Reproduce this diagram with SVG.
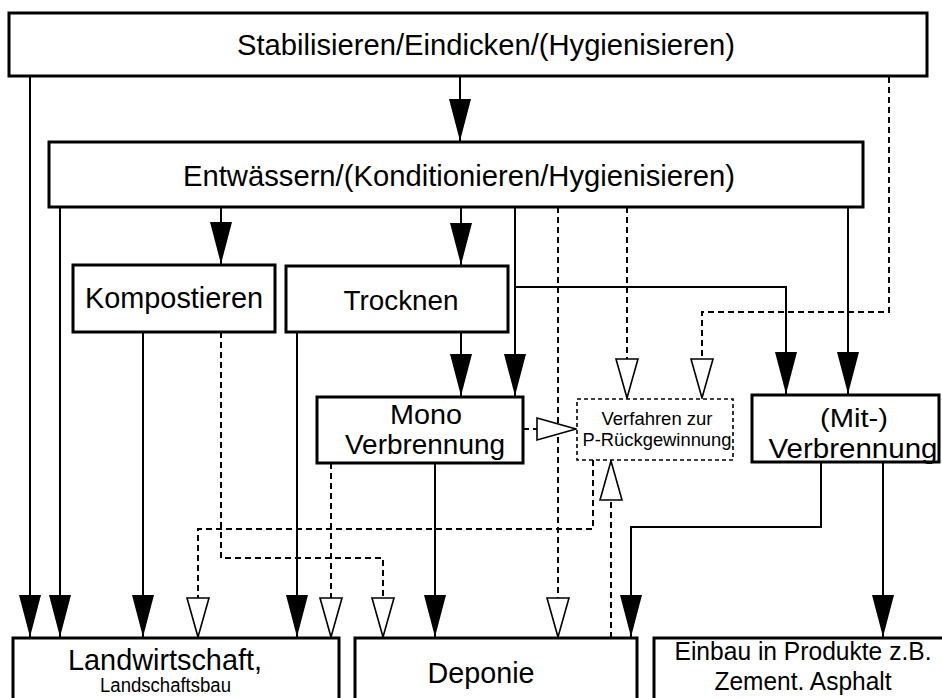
<svg xmlns="http://www.w3.org/2000/svg" width="942" height="698" viewBox="0 0 942 698">
<style>
.box{fill:#fff;stroke:#000;stroke-width:3}
.dbox{fill:#fff;stroke:#000;stroke-width:1.6;stroke-dasharray:4 3}
.t{font-family:"Liberation Sans",Arial,sans-serif;fill:#000;text-anchor:middle}
.s{fill:none;stroke:#000;stroke-width:2;marker-end:url(#fa)}
.d{fill:none;stroke:#000;stroke-width:2;stroke-dasharray:6 4;marker-end:url(#oa)}
</style>
<defs>
<marker id="fa" markerUnits="userSpaceOnUse" markerWidth="44" markerHeight="24" refX="42" refY="11" orient="auto" viewBox="0 0 44 24">
<path d="M0,0 L42,11 L0,22 Z" fill="#000" stroke="none"/>
</marker>
<marker id="oa" markerUnits="userSpaceOnUse" markerWidth="44" markerHeight="26" refX="40" refY="12" orient="auto" viewBox="0 0 44 26">
<path d="M1,1 L40,12 L1,23 Z" fill="#fff" stroke="#000" stroke-width="1.6" stroke-dasharray="none"/>
</marker>
</defs>
<rect width="942" height="698" fill="#fff"/>
<g id="connectors">
<path class="s" d="M30,77 V637"/>
<path class="s" d="M460,77 V141"/>
<path class="s" d="M60,207 V637"/>
<path class="s" d="M221,207 V264"/>
<path class="s" d="M461,207 V265"/>
<path class="s" d="M515,207 V396"/>
<path class="s" d="M515,287 H786 V394"/>
<path class="s" d="M848,207 V394"/>
<path class="s" d="M461,332 V396"/>
<path class="s" d="M143,332 V637"/>
<path class="s" d="M297,332 V637"/>
<path class="s" d="M435,463 V637"/>
<path class="s" d="M821,462 V527 H631 V637"/>
<path class="s" d="M883,462 V637"/>
<path class="d" d="M889,77 V312 H702 V398"/>
<path class="d" d="M627,207 V398"/>
<path class="d" d="M558,207 V637"/>
<path class="d" d="M221,332 V558 H383 V637"/>
<path class="d" d="M331,463 V637"/>
<path class="d" d="M523,429 H576"/>
<path class="d" d="M593,460 V529 H198 V637"/>
<path class="d" d="M611,638 V461"/>
</g>
<g id="stabilisieren">
<rect class="box" x="9" y="13" width="918" height="63"/>
<text class="t" x="486" y="55" font-size="30" textLength="498" lengthAdjust="spacingAndGlyphs">Stabilisieren/Eindicken/(Hygienisieren)</text>
</g>
<g id="entwaessern">
<rect class="box" x="49" y="142" width="814" height="65"/>
<text class="t" x="459" y="186" font-size="29" textLength="552" lengthAdjust="spacingAndGlyphs">Entwässern/(Konditionieren/Hygienisieren)</text>
</g>
<g id="kompostieren">
<rect class="box" x="73" y="265" width="202" height="67"/>
<text class="t" x="174" y="308" font-size="29" textLength="178" lengthAdjust="spacingAndGlyphs">Kompostieren</text>
</g>
<g id="trocknen">
<rect class="box" x="286" y="266" width="222" height="66"/>
<text class="t" x="401" y="310" font-size="28" textLength="115" lengthAdjust="spacingAndGlyphs">Trocknen</text>
</g>
<g id="mono">
<rect class="box" x="317" y="397" width="206" height="66"/>
<text class="t" x="426" y="424" font-size="27" textLength="72" lengthAdjust="spacingAndGlyphs">Mono</text>
<text class="t" x="425" y="454" font-size="28" textLength="160" lengthAdjust="spacingAndGlyphs">Verbrennung</text>
</g>
<g id="p-rueckgewinnung">
<rect class="dbox" x="577" y="399" width="156" height="61"/>
<text class="t" x="657" y="425" font-size="18" textLength="111" lengthAdjust="spacingAndGlyphs">Verfahren zur</text>
<text class="t" x="657" y="446" font-size="18" textLength="149" lengthAdjust="spacingAndGlyphs">P-Rückgewinnung</text>
</g>
<g id="mitverbrennung">
<rect class="box" x="752" y="395" width="187" height="67"/>
<text class="t" x="854" y="427" font-size="26" textLength="68" lengthAdjust="spacingAndGlyphs">(Mit-)</text>
<text class="t" x="853" y="458" font-size="28" textLength="169" lengthAdjust="spacingAndGlyphs">Verbrennung</text>
</g>
<g id="landwirtschaft">
<rect class="box" x="13" y="638" width="326" height="80"/>
<text class="t" x="165" y="670" font-size="29" textLength="194" lengthAdjust="spacingAndGlyphs">Landwirtschaft,</text>
<text class="t" x="165.5" y="692" font-size="20" textLength="131" lengthAdjust="spacingAndGlyphs">Landschaftsbau</text>
</g>
<g id="deponie">
<rect class="box" x="355" y="638" width="282" height="80"/>
<text class="t" x="481" y="683" font-size="29" textLength="107" lengthAdjust="spacingAndGlyphs">Deponie</text>
</g>
<g id="einbau">
<rect class="box" x="654" y="638" width="300" height="80"/>
<text class="t" x="803" y="660" font-size="25" textLength="257" lengthAdjust="spacingAndGlyphs">Einbau in Produkte z.B.</text>
<text class="t" x="803" y="690" font-size="25" textLength="177" lengthAdjust="spacingAndGlyphs">Zement. Asphalt</text>
</g>
</svg>
